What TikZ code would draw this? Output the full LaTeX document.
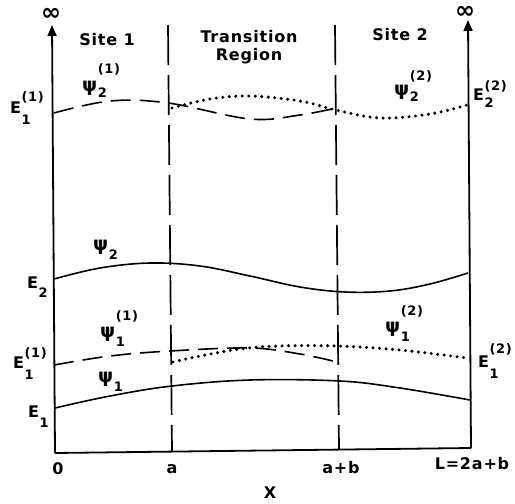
\documentclass[tikz,border=0pt]{standalone}
\usepackage{fontspec}
\setmainfont{DejaVu Sans}[LetterSpace=5]
\usetikzlibrary{arrows.meta}
\newcommand{\lbl}[5]{#1\kern0.5pt\rlap{\raisebox{-#4}{\fontsize{13}{13}\selectfont #2}}\raisebox{#5}{\fontsize{13}{13}\selectfont #3}}
\newcommand{\psiglyph}{{\fontsize{19}{19}\selectfont ψ}}
\tikzset{
  solidc/.style={line width=1.6pt},
  dashc/.style={line width=1.6pt, dash pattern=on 20pt off 9pt},
  dotc/.style={line width=3.4pt, line cap=round, dash pattern=on 0pt off 6.5pt},
  vdash/.style={line width=1.7pt, dash pattern=on 40pt off 10pt},
  axisline/.style={line width=1.8pt},
  axisarrow/.style={axisline, -{Triangle[length=11pt,width=9pt]}},
  txt/.style={font=\fontsize{16}{18}\selectfont\bfseries, inner sep=0pt},
}
\begin{document}
\begin{tikzpicture}[x=1pt,y=-1pt]
\useasboundingbox (0,0) rectangle (515,504);
% axes
\coordinate (O) at (55,453);
\coordinate (R) at (471,448);
\coordinate (Ltop) at (52,25);
\coordinate (Rtop) at (468,20);
\draw[axisline] (O) -- (R);
\draw[axisarrow] (O) -- (Ltop);
\draw[axisarrow] (R) -- (Rtop);
% dashed verticals
\coordinate (At) at (168,25);
\coordinate (Ab) at (172,452);
\coordinate (Bt) at (335,25);
\coordinate (Bb) at (339,449);
\draw[vdash] (At) -- (Ab);
\draw[vdash] (Bt) -- (Bb);
% infinity
\node[txt, font=\fontsize{24}{24}\selectfont\bfseries] (infL) at (51,14) {∞};
\node[txt, font=\fontsize{24}{24}\selectfont\bfseries] (infR) at (465,12) {∞};
% region titles
\node[txt] (site1) at (107,40) {Site 1};
\node[txt, align=center] (trans) at (249,47) {Transition\\Region};
\node[txt] (site2) at (400,35) {Site 2};
% curves: psi_2 level
\draw[dashc] plot[smooth, tension=0.6] coordinates {(54,113) (110,101) (168,103) (250,119) (300,115) (336,108)};
\draw[dotc] plot[smooth, tension=0.6] coordinates {(172,108) (210,99) (250,96) (300,101) (336,110) (380,118) (430,114) (467,105)};
\draw[solidc] plot[smooth, tension=0.6] coordinates {(54,279) (100,268) (150,263) (200,266) (250,276) (300,287) (345,292) (390,291) (430,284) (468,273)};
% psi_1 level
\draw[dashc] plot[smooth, tension=0.6] coordinates {(54,365) (110,356) (170,351) (250,348) (300,354) (337,362)};
\draw[dotc] plot[smooth, tension=0.6] coordinates {(173,362) (200,356) (240,349) (280,346) (337,346) (400,350) (467,358)};
\draw[solidc] plot[smooth, tension=0.6] coordinates {(55,408) (110,396) (172,386) (250,380) (340,381) (400,388) (470,400)};
% labels
\node[txt, anchor=base west] (lE11a) at (10,113) {\lbl{E}{1}{(1)}{11pt}{12pt}};
\node[txt, anchor=base west] (lp21) at (82,91) {\lbl{\psiglyph}{2}{(1)}{6pt}{18pt}};
\node[txt, anchor=base west] (lp22) at (394,95) {\lbl{\psiglyph}{2}{(2)}{6pt}{15pt}};
\node[txt, anchor=base west] (lE22) at (473,100) {\lbl{E}{2}{(2)}{7pt}{10pt}};
\node[txt, anchor=base west] (lp2) at (93,250) {\lbl{\psiglyph}{2}{}{9pt}{0pt}};
\node[txt, anchor=base west] (lE2) at (27,288) {\lbl{E}{2}{}{9pt}{0pt}};
\node[txt, anchor=base west] (lp11) at (100,337) {\lbl{\psiglyph}{1}{(1)}{9pt}{17pt}};
\node[txt, anchor=base west] (lE11b) at (13,368) {\lbl{E}{1}{(1)}{11pt}{11pt}};
\node[txt, anchor=base west] (lp12) at (385,332) {\lbl{\psiglyph}{1}{(2)}{9pt}{17pt}};
\node[txt, anchor=base west] (lE12) at (478,367) {\lbl{E}{1}{(2)}{11pt}{14pt}};
\node[txt, anchor=base west] (lp1) at (98,382) {\lbl{\psiglyph}{1}{}{9pt}{0pt}};
\node[txt, anchor=base west] (lE1) at (28,417) {\lbl{E}{1}{}{10pt}{0pt}};
% axis labels
\node[txt] (x0) at (58,469) {0};
\node[txt] (xa) at (172,469) {a};
\node[txt] (xab) at (341,468) {a+b};
\node[txt] (xL) at (472,464) {L=2a+b};
\node[txt] (xX) at (270,493) {X};
\end{tikzpicture}
\end{document}
